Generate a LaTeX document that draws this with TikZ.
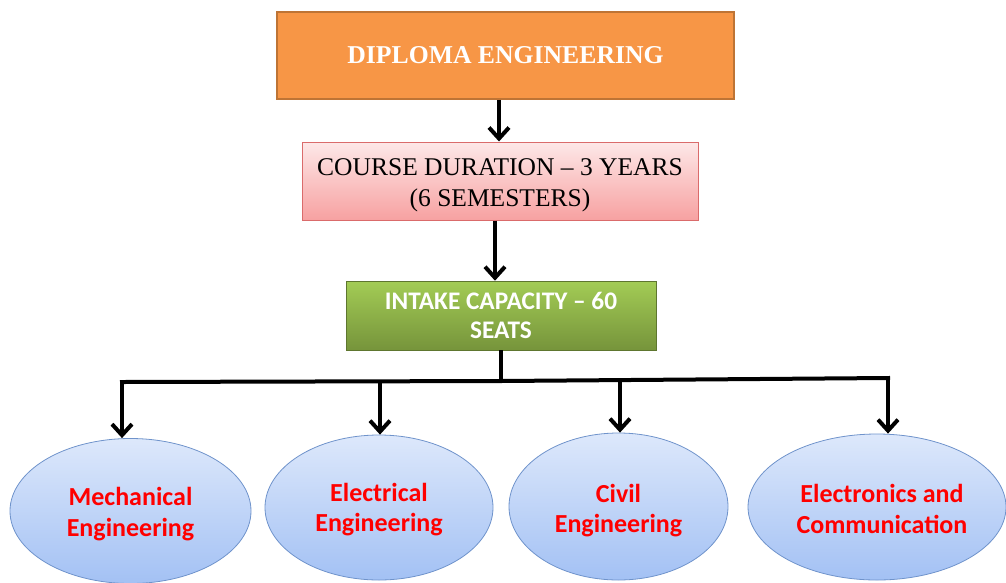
\documentclass[tikz,border=0pt]{standalone}
\usepackage{fontspec}
\setmainfont{Liberation Serif}
\newfontfamily\calib[Ligatures=TeX]{Carlito}
\usetikzlibrary{arrows.meta,shapes.geometric}
\definecolor{orfill}{HTML}{F79646}
\definecolor{ordraw}{HTML}{BE7435}
\definecolor{pktop}{HTML}{FDE8E8}
\definecolor{pkbot}{HTML}{F7A1A1}
\definecolor{pkdraw}{HTML}{DA6B6B}
\definecolor{grtop}{HTML}{A3CC55}
\definecolor{grbot}{HTML}{76943B}
\definecolor{bltop}{HTML}{DDE8FB}
\definecolor{blbot}{HTML}{A3C1F4}
\definecolor{bldraw}{HTML}{6F93CB}
\definecolor{redtxt}{HTML}{FF0000}
\tikzset{
  conn/.style={line width=4pt, black},
  arr/.style={conn, -{Straight Barb[length=11pt,width=20pt,line width=4pt]}},
  branch/.style={ellipse, draw=bldraw, line width=0.8pt, top color=bltop, bottom color=blbot, inner sep=0pt},
  blabel/.style={font=\calib\bfseries\fontsize{26}{30.5}\selectfont, text=redtxt, align=center, inner sep=0pt},
}
\begin{document}
\begin{tikzpicture}[x=1pt,y=-1pt]
\useasboundingbox (0,0) rectangle (1006,582);
% top box
\node[draw=ordraw, line width=1.5pt, fill=orfill, minimum width=457pt, minimum height=87pt,
  font=\bfseries\fontsize{25.7}{30}\selectfont, text=white] (dip) at (505.5,55.5) {DIPLOMA ENGINEERING};
% course box
\node[draw=pkdraw, line width=1pt, top color=pktop, bottom color=pkbot, minimum width=396pt, minimum height=78pt] (dur) at (500,181) {};
\node[font=\fontsize{25.5}{31}\selectfont, align=center, inner sep=0pt] (durt) at ([yshift=-4pt]dur.center) {COURSE DURATION – 3 YEARS\\(6 SEMESTERS)};
% intake box
\node[draw=grbot!80!black, line width=0.6pt, top color=grtop, bottom color=grbot, minimum width=310pt, minimum height=69pt,
  font=\calib\bfseries\fontsize{25.3}{29}\selectfont, text=white, align=center] (cap) at (501,315.5) {INTAKE CAPACITY – 60\\SEATS};
% ellipses
\node[branch, minimum width=241pt, minimum height=145pt] (mech) at (130.5,511) {};
\node[branch, minimum width=228pt, minimum height=145pt] (elec) at (379,507.5) {};
\node[branch, minimum width=219pt, minimum height=147pt] (civ) at (618.5,506.5) {};
\node[branch, minimum width=258pt, minimum height=146pt] (ece) at (877,507) {};
\node[blabel] (mecht) at ([yshift=-3pt]mech.center) {Mechanical\\Engineering};
\node[blabel] (elect) at ([yshift=-2pt]elec.center) {Electrical\\Engineering};
\node[blabel] (civt) at ([yshift=-4pt]civ.center) {Civil\\Engineering};
\node[blabel] (ecet) at ([xshift=5pt,yshift=-2pt]ece.center) {Electronics and\\Communication};
% connectors
\coordinate (j) at (501,381);
\coordinate (l) at (122,382);
\coordinate (r) at (888,378);
\draw[arr] (dip.south -| 499,0) -- (dur.north -| 499,0);
\draw[arr] (dur.south -| 495,0) -- (cap.north -| 495,0);
\draw[conn] (cap.south -| j) -- (j);
\draw[conn, line cap=rect] (l) -- (j) -- (r);
\draw[arr] ([yshift=-2pt]l) -- (mech.north -| l);
\draw[arr] (380,380) -- (elec.north -| 380,0);
\draw[arr] (620,379) -- (civ.north -| 620,0);
\draw[arr] ([yshift=-2pt]r) -- (ece.north -| r);
\end{tikzpicture}
\end{document}
